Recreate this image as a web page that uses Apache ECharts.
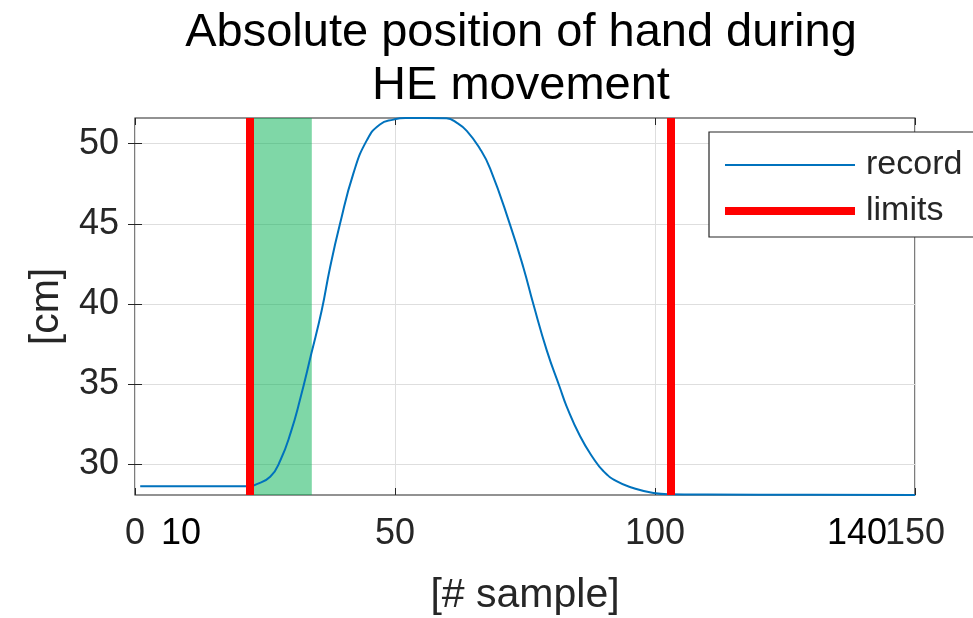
<!DOCTYPE html>
<html>
<head>
<meta charset="utf-8">
<script src="https://cdn.jsdelivr.net/npm/echarts@6/dist/echarts.min.js"></script>
<style>
  html, body { margin: 0; padding: 0; background: #fff; }
  #main { width: 973px; height: 618px; }
</style>
</head>
<body>
<div id="main"></div>
<script>
// sample index and hand position
const sampleIdx = [1, 10, 22, 23, 26, 28, 30, 31.7, 33.9, 35.9, 37.5, 39.4, 42, 44.6, 47.1, 49.7, 52, 56, 59.9, 61.9, 63.8, 66.3, 68.3, 72.1, 74.7, 76.6, 79.2, 81.7, 83, 85.6, 88.1, 90.1, 92.6, 95.8, 99.7, 103, 110, 130, 150];
const position  = [28.65, 28.65, 28.65, 28.72, 29.24, 30.3, 32.05, 34.0, 36.9, 39.6, 42.27, 44.97, 48.15, 50.22, 51.2, 51.5, 51.6, 51.6, 51.58, 51.3, 50.8, 49.7, 48.45, 44.97, 42.27, 40.0, 37.1, 34.8, 33.63, 31.76, 30.41, 29.58, 28.96, 28.54, 28.23, 28.15, 28.13, 28.11, 28.1];

const limits = [22, 103];        // red vertical lines
const window_ = [22, 34];        // green band
const yTicks = [30, 35, 40, 45, 50];
const extraXTicks = [10, 140];   // black annotation labels

const FONT = 'Liberation Sans';
const GRAY = '#262626';

const recordData = sampleIdx.map((x, i) => [x, position[i]]);

var myChart = echarts.init(document.getElementById('main'), null, { renderer: 'canvas' });

myChart.setOption({
  backgroundColor: '#fff',
  animation: false,
  title: {
    text: 'Absolute position of hand during\nHE movement',
    left: 516,
    top: 2,
    textAlign: 'center',
    textStyle: { fontFamily: FONT, fontSize: 47, fontWeight: 'normal', color: '#000', lineHeight: 53 }
  },
  legend: {
    orient: 'vertical',
    left: 709,
    top: 132,
    padding: [16, 24, 9, 12],
    itemGap: 12,
    itemWidth: 130,
    itemHeight: 14,
    selectedMode: false,
    backgroundColor: '#fff',
    borderColor: GRAY,
    borderWidth: 1.2,
    borderRadius: 0,
    textStyle: { fontFamily: FONT, fontSize: 34, color: GRAY, padding: [0, 0, 0, 6] },
    data: [
      { name: 'record', itemStyle: { opacity: 0 }, lineStyle: { width: 2, color: '#0072BD' } },
      { name: 'limits', itemStyle: { opacity: 0 }, lineStyle: { width: 8, color: '#ff0000' } }
    ]
  },
  grid: {
    left: 135, right: 58, top: 118, bottom: 123,
    outerBoundsMode: 'none',
    show: true, borderColor: GRAY, borderWidth: 1.2, backgroundColor: 'transparent'
  },
  xAxis: [
    {
      type: 'value', min: 0, max: 150, interval: 50,
      name: '[# sample]', nameLocation: 'middle', nameGap: 80,
      nameTextStyle: { fontFamily: FONT, fontSize: 41, color: GRAY },
      axisLine: { show: false },
      axisTick: { show: true, inside: true, length: 7, lineStyle: { color: GRAY, width: 1 } },
      axisLabel: { fontFamily: FONT, fontSize: 36, color: GRAY, margin: 21 },
      splitLine: { show: true, lineStyle: { color: '#dedede', width: 1 } }
    },
    {
      type: 'value', min: 0, max: 150, position: 'bottom',
      axisLine: { show: false }, axisTick: { show: false }, splitLine: { show: false },
      axisLabel: { customValues: extraXTicks, fontFamily: FONT, fontSize: 36, color: '#000', margin: 21, padding: [0, 12, 0, 0] }
    },
    {
      type: 'value', min: 0, max: 150, interval: 50, position: 'top',
      axisLine: { show: false }, splitLine: { show: false }, axisLabel: { show: false },
      axisTick: { show: true, inside: true, length: 7, lineStyle: { color: GRAY, width: 1 } }
    }
  ],
  yAxis: [
    {
      type: 'value', min: 28.1, max: 51.6, minInterval: 5, maxInterval: 5,
      name: '[cm]', nameLocation: 'middle', nameGap: 68,
      nameTextStyle: { fontFamily: FONT, fontSize: 41, color: GRAY },
      axisLine: { show: false },
      axisTick: { show: true, inside: true, length: 7, customValues: yTicks, lineStyle: { color: GRAY, width: 1 } },
      axisLabel: { fontFamily: FONT, fontSize: 36, color: GRAY, margin: 16, customValues: yTicks },
      splitLine: { show: true, lineStyle: { color: '#dedede', width: 1 } }
    },
    {
      type: 'value', min: 28.1, max: 51.6, minInterval: 5, maxInterval: 5, position: 'right',
      axisLine: { show: false }, splitLine: { show: false }, axisLabel: { show: false },
      axisTick: { show: true, inside: true, length: 7, customValues: yTicks, lineStyle: { color: GRAY, width: 1 } }
    }
  ],
  series: [
    {
      name: 'record', type: 'line', data: recordData,
      xAxisIndex: 0, yAxisIndex: 0,
      symbol: 'none', smooth: 0.5,
      lineStyle: { color: '#0072BD', width: 2 },
      itemStyle: { color: '#0072BD' },
      z: 2
    },
    {
      name: 'window', type: 'line', data: [],
      xAxisIndex: 0, yAxisIndex: 0,
      markArea: {
        silent: true,
        itemStyle: { color: 'rgba(0,176,80,0.5)' },
        data: [[{ xAxis: window_[0] }, { xAxis: window_[1] }]]
      },
      z: 3
    },
    {
      name: 'limits', type: 'line', data: [],
      xAxisIndex: 0, yAxisIndex: 0,
      symbol: 'none',
      lineStyle: { color: '#ff0000', width: 8 },
      itemStyle: { color: '#ff0000' },
      markLine: {
        silent: true, symbol: 'none',
        label: { show: false },
        lineStyle: { color: '#ff0000', width: 8, type: 'solid' },
        data: limits.map(v => ({ xAxis: v }))
      },
      z: 4
    }
  ]
});
</script>
</body>
</html>
